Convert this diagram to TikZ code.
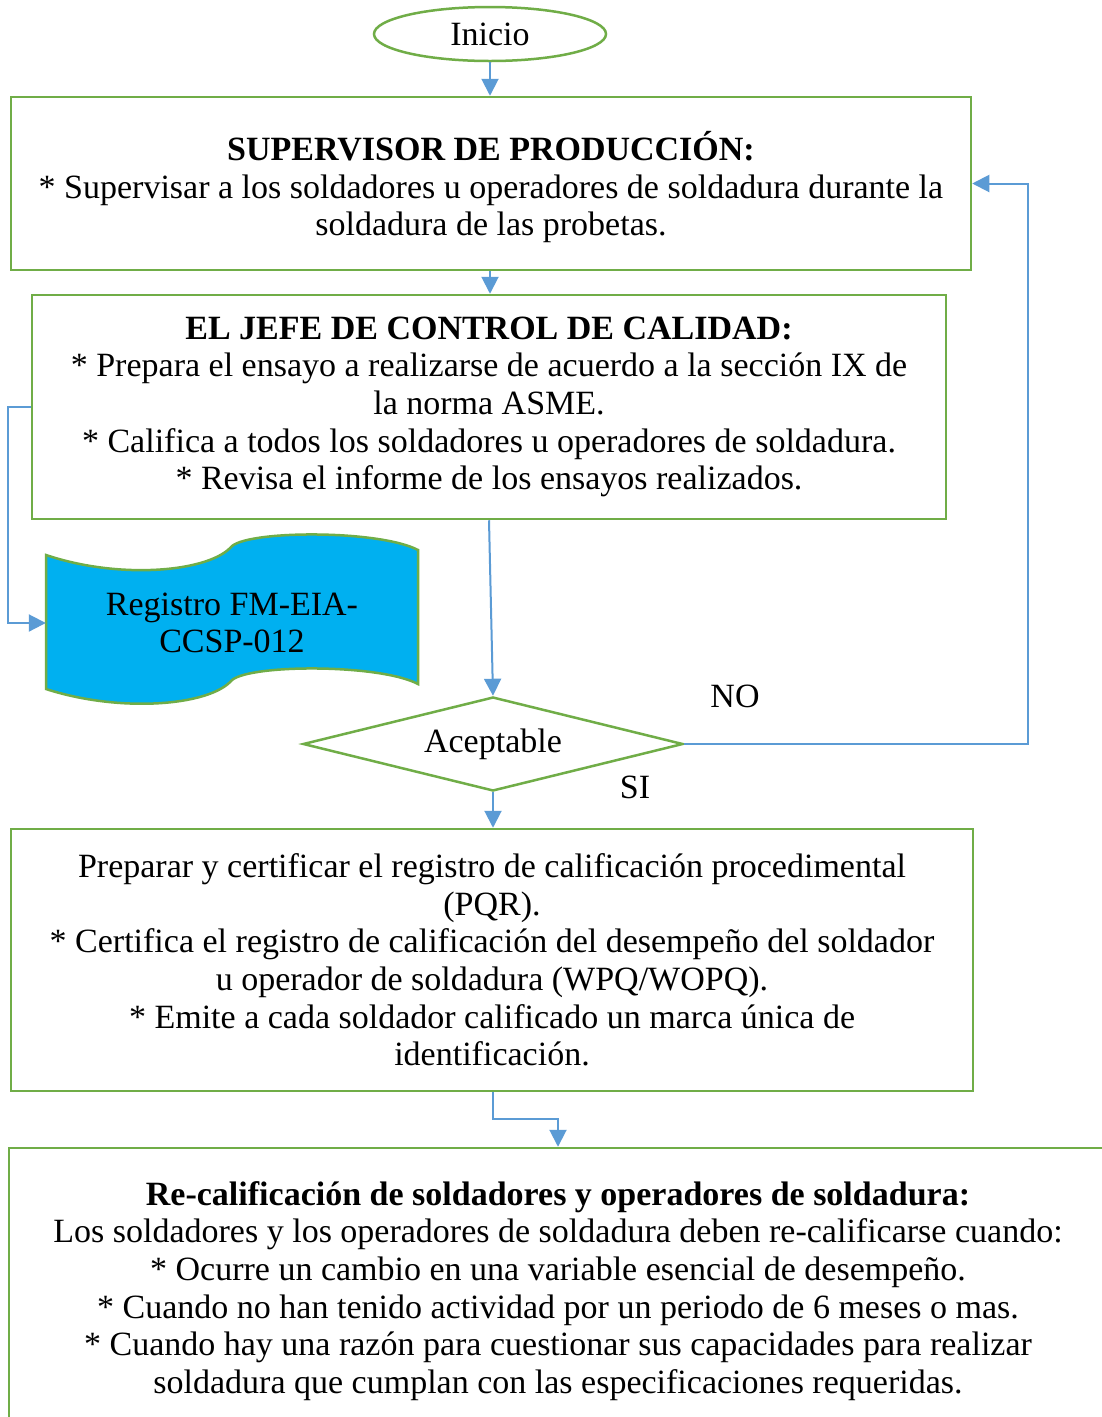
\documentclass[tikz,border=0pt]{standalone}
\usepackage{fontspec}
\setmainfont{Liberation Serif}
\usetikzlibrary{shapes.geometric,arrows.meta}
\definecolor{gr}{HTML}{70AD47}
\definecolor{bl}{HTML}{5B9BD5}
\definecolor{cy}{HTML}{00B0F0}
\begin{document}
\begin{tikzpicture}[x=1pt,y=-1pt,
  every node/.style={font=\fontsize{34}{37.6}\selectfont, text=black},
  box/.style={draw=gr, line width=2.5pt, fill=white, rectangle, align=center, inner sep=0pt},
  conn/.style={draw=bl, line width=2pt, -{Triangle[width=17pt,length=17pt]}},
  lbl/.style={inner sep=0pt}]
\clip (0,0) rectangle (1102,1417);
\fill[white] (0,0) rectangle (1102,1417);

\node[ellipse, draw=gr, line width=2.5pt, minimum width=232pt, minimum height=54pt, inner sep=0pt] (ini) at (490,34) {Inicio};

\node[box, minimum width=960pt, minimum height=173pt, text depth=0pt] (b1) at (491,183.5)
 {\textbf{SUPERVISOR DE PRODUCCIÓN:}\\
  * Supervisar a los soldadores u operadores de soldadura durante la\\
  soldadura de las probetas.};

\node[box, minimum width=914pt, minimum height=224pt] (b2) at (489,407)
 {\textbf{EL JEFE DE CONTROL DE CALIDAD:}\\
  * Prepara el ensayo a realizarse de acuerdo a la sección IX de\\
  la norma ASME.\\
  * Califica a todos los soldadores u operadores de soldadura.\\
  * Revisa el informe de los ensayos realizados.};

% document shape
\filldraw[fill=cy, draw=gr, line width=2.5pt]
  (46,555) .. controls (120,580) and (210,572) .. (232,546)
  .. controls (252,530) and (380,530) .. (418,550)
  -- (418,684)
  .. controls (380,664) and (252,664) .. (232,680)
  .. controls (210,706) and (120,713) .. (46,689) -- cycle;
\node[align=center, minimum width=372pt, inner sep=0pt] (doc) at (232,623)
 {Registro FM-EIA-\\CCSP-012};

\node[diamond, draw=gr, line width=2.5pt, aspect=4, minimum width=380pt, minimum height=94pt, inner sep=0pt] (dia) at (493,744) {Aceptable};

\node[lbl] (no) at (735,696) {NO};
\node[lbl] (si) at (635,787) {SI};

\node[box, minimum width=962pt, minimum height=262pt] (b3) at (492,960)
 {Preparar y certificar el registro de calificación procedimental\\
  (PQR).\\
  * Certifica el registro de calificación del desempeño del soldador\\
  u operador de soldadura (WPQ/WOPQ).\\
  * Emite a cada soldador calificado un marca única de\\
  identificación.};

\node[box, minimum width=1098pt, minimum height=286pt] (b4) at (558,1291)
 {\textbf{Re-calificación de soldadores y operadores de soldadura:}\\
  Los soldadores y los operadores de soldadura deben re-calificarse cuando:\\
  * Ocurre un cambio en una variable esencial de desempeño.\\
  * Cuando no han tenido actividad por un periodo de 6 meses o mas.\\
  * Cuando hay una razón para cuestionar sus capacidades para realizar\\
  soldadura que cumplan con las especificaciones requeridas.};

\coordinate (lx) at (8,407);
\coordinate (nx) at (1028,744);
\coordinate (dx) at (493,1119);

\draw[conn] (ini.south) -- (ini.south |- b1.north);
\draw[conn] (ini.south |- b1.south) -- (ini.south |- b2.north);
\draw[conn] (b2.west) -- (lx) |- (doc.west);
\draw[conn] (b2.south) -- (dia.north);
\draw[conn] (dia.east) -- (nx) |- (b1.east);
\draw[conn] (dia.south) -- (dia.south |- b3.north);
\draw[conn] (dia.south |- b3.south) -- (dx) -| (b4.north);
\end{tikzpicture}
\end{document}
